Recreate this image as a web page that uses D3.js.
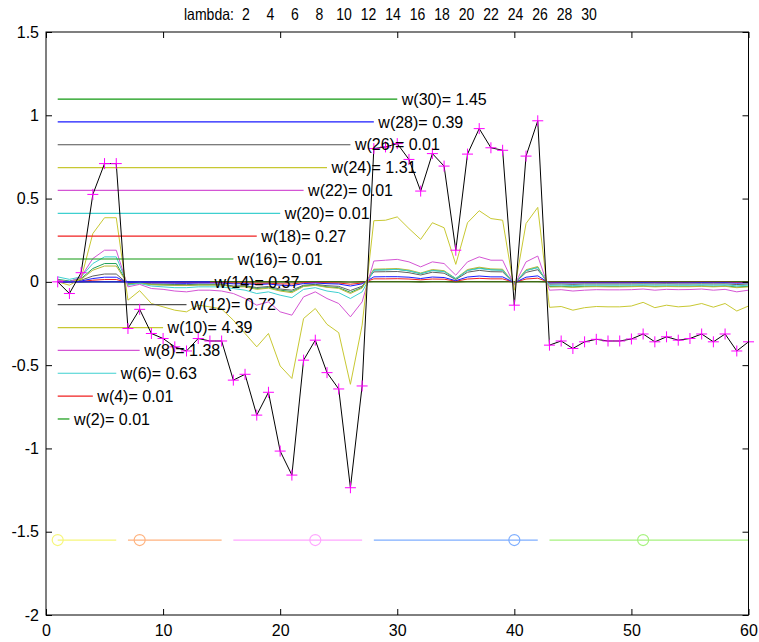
<!DOCTYPE html>
<html lang="en">
<head>
<meta charset="utf-8">
<title>lambda weights</title>
<script src="https://d3js.org/d3.v7.min.js"></script>
<style>
  body { margin: 0; background: #fff; }
  text { font-family: "Liberation Sans", Arial, Helvetica, sans-serif; fill: #000; }
</style>
</head>
<body>
<script>
// canvas
const W = 759, H = 642;
const plot = {left: 46, right: 748.5, top: 32, bottom: 615};

// lambdas shown in the title / legend
const lambdas = [2, 4, 6, 8, 10, 12, 14, 16, 18, 20, 22, 24, 26, 28, 30];
const weights = ["0.01", "0.01", "0.63", "1.38", "4.39", "0.72", "0.37", "0.01", "0.27", "0.01", "0.01", "1.31", "0.01", "0.39", "1.45"];
const legendColors = ["#119911", "#f02020", "#3ed0d0", "#d455d4", "#c8c832", "#505050", "#1a1aff",
                      "#119911", "#f02020", "#3ed0d0", "#d455d4", "#c8c832", "#505050", "#1a1aff", "#119911"];

// observed signal (black line with magenta +)
const signal = [0, -0.07, 0.055, 0.525, 0.71, 0.71, -0.28, -0.165, -0.31, -0.34,
  -0.39, -0.415, -0.34, -0.355, -0.355, -0.59, -0.555, -0.80, -0.663, -1.016,
  -1.16, -0.47, -0.35, -0.545, -0.643, -1.236, -0.625, 0.80, 0.81, 0.83,
  0.735, 0.545, 0.77, 0.695, 0.19, 0.767, 0.92, 0.805, 0.79, -0.14,
  0.755, 0.967, -0.38, -0.355, -0.40, -0.36, -0.345, -0.355, -0.355, -0.343,
  -0.313, -0.36, -0.33, -0.35, -0.34, -0.313, -0.36, -0.313, -0.415, -0.36];

// smoothed curves
const yellowBig = [0, -0.02, 0.02, 0.29, 0.385, 0.385, -0.11, -0.053, -0.13, -0.15,
  -0.17, -0.18, -0.14, -0.15, -0.163, -0.23, -0.31, -0.39, -0.31, -0.505,
  -0.58, -0.22, -0.16, -0.255, -0.305, -0.615, -0.26, 0.367, 0.37, 0.39,
  0.32, 0.255, 0.355, 0.325, 0.105, 0.355, 0.427, 0.38, 0.37, -0.05,
  0.35, 0.447, -0.153, -0.148, -0.17, -0.155, -0.148, -0.15, -0.15, -0.145,
  -0.123, -0.155, -0.14, -0.15, -0.145, -0.13, -0.152, -0.13, -0.175, -0.145];
const magentaC = [0.01, 0, 0.03, 0.14, 0.19, 0.19, -0.03, -0.015, -0.04, -0.045,
  -0.055, -0.06, -0.05, -0.05, -0.055, -0.07, -0.10, -0.14, -0.12, -0.18,
  -0.20, -0.09, -0.06, -0.10, -0.13, -0.21, -0.12, 0.125, 0.13, 0.135,
  0.12, 0.09, 0.12, 0.11, 0.04, 0.12, 0.15, 0.13, 0.13, -0.02,
  0.12, 0.155, -0.05, -0.047, -0.055, -0.05, -0.047, -0.048, -0.048, -0.047,
  -0.043, -0.05, -0.045, -0.047, -0.046, -0.043, -0.05, -0.045, -0.06, -0.05];
const cyanC = [0.03, 0.015, 0.03, 0.11, 0.15, 0.15, -0.02, -0.01, -0.025, -0.03,
  -0.035, -0.035, -0.03, -0.03, -0.03, -0.04, -0.05, -0.07, -0.06, -0.08,
  -0.095, -0.045, -0.035, -0.055, -0.065, -0.10, -0.06, 0.07, 0.072, 0.075,
  0.066, 0.05, 0.068, 0.062, 0.02, 0.068, 0.08, 0.072, 0.07, -0.01,
  0.068, 0.085, -0.021, -0.02, -0.022, -0.02, -0.02, -0.02, -0.02, -0.02,
  -0.018, -0.02, -0.019, -0.02, -0.02, -0.018, -0.02, -0.018, -0.024, -0.02];
const oliveC = [0.01, 0, 0.015, 0.07, 0.095, 0.095, -0.015, -0.008, -0.017, -0.019,
  -0.021, -0.022, -0.019, -0.019, -0.019, -0.03, -0.03, -0.045, -0.038, -0.055,
  -0.065, -0.028, -0.021, -0.033, -0.039, -0.07, -0.037, 0.076, 0.078, 0.08,
  0.071, 0.053, 0.074, 0.067, 0.02, 0.074, 0.088, 0.078, 0.076, -0.012,
  0.073, 0.092, -0.031, -0.03, -0.033, -0.03, -0.029, -0.03, -0.03, -0.029,
  -0.027, -0.03, -0.028, -0.029, -0.029, -0.027, -0.03, -0.027, -0.035, -0.03];
const greenC = [0.015, 0.005, 0.02, 0.08, 0.11, 0.11, -0.014, -0.007, -0.016, -0.018,
  -0.02, -0.021, -0.018, -0.018, -0.018, -0.028, -0.027, -0.04, -0.034, -0.05,
  -0.058, -0.025, -0.019, -0.03, -0.035, -0.063, -0.033, 0.072, 0.073, 0.075,
  0.066, 0.049, 0.069, 0.063, 0.018, 0.069, 0.083, 0.073, 0.071, -0.011,
  0.068, 0.087, -0.028, -0.027, -0.03, -0.027, -0.026, -0.027, -0.027, -0.026,
  -0.024, -0.027, -0.025, -0.026, -0.026, -0.024, -0.027, -0.024, -0.031, -0.027];
const greyC = [0.005, -0.005, 0.01, 0.035, 0.047, 0.047, -0.012, -0.007, -0.013, -0.014,
  -0.016, -0.017, -0.014, -0.015, -0.015, -0.025, -0.024, -0.034, -0.028, -0.043,
  -0.05, -0.02, -0.015, -0.023, -0.027, -0.052, -0.026, 0.06, 0.061, 0.062,
  0.055, 0.041, 0.058, 0.052, 0.014, 0.058, 0.069, 0.061, 0.06, -0.01,
  0.057, 0.073, -0.014, -0.013, -0.015, -0.013, -0.013, -0.013, -0.013, -0.013,
  -0.012, -0.013, -0.012, -0.013, -0.013, -0.012, -0.013, -0.012, -0.016, -0.013];
const blueC = [0.002, -0.002, 0.005, 0.02, 0.028, 0.028, -0.006, -0.004, -0.007, -0.007,
  -0.008, -0.009, -0.007, -0.007, -0.007, -0.012, -0.011, -0.016, -0.013, -0.02,
  -0.023, -0.01, -0.007, -0.011, -0.013, -0.025, -0.012, 0.03, 0.031, 0.031,
  0.028, 0.02, 0.029, 0.026, 0.007, 0.029, 0.035, 0.03, 0.03, -0.005,
  0.028, 0.036, -0.007, -0.006, -0.007, -0.006, -0.006, -0.006, -0.006, -0.006,
  -0.005, -0.006, -0.006, -0.006, -0.006, -0.005, -0.006, -0.005, -0.008, -0.006];
const redC = [0, -0.001, 0.002, 0.01, 0.014, 0.014, -0.004, -0.002, -0.004, -0.004,
  -0.005, -0.005, -0.004, -0.004, -0.004, -0.007, -0.006, -0.009, -0.008, -0.012,
  -0.013, -0.005, -0.004, -0.006, -0.007, -0.014, -0.007, 0.018, 0.018, 0.019,
  0.017, 0.012, 0.017, 0.016, 0.004, 0.017, 0.021, 0.018, 0.018, -0.003,
  0.017, 0.022, -0.003, -0.003, -0.003, -0.003, -0.003, -0.003, -0.003, -0.003,
  -0.002, -0.003, -0.003, -0.003, -0.003, -0.002, -0.003, -0.002, -0.004, -0.003];
const darkC = [0, 0, 0, 0.001, 0.001, 0.001, 0, 0, 0, 0,
  0, 0, 0, 0, 0, 0, 0, 0, 0, 0,
  0, 0, 0, 0, 0, -0.001, 0, 0.001, 0.001, 0.001,
  0.001, 0, 0.001, 0.001, 0, 0.001, 0.001, 0.001, 0.001, 0,
  0.001, 0.001, 0, 0, 0, 0, 0, 0, 0, 0,
  0, 0, 0, 0, 0, 0, 0, 0, 0, 0];

// segments along the bottom
const segStart = [1, 7, 16, 28, 43];
const segEnd = [6, 15, 27, 42, 60];
const segMark = [1, 8, 23, 40, 51];
const segLevel = -1.55;
const segColors = ["#f6f67a", "#ffb27e", "#ffa6ff", "#7eaeff", "#a6f27e"];

const xTicks = [0, 10, 20, 30, 40, 50, 60];
const yTicks = [-2, -1.5, -1, -0.5, 0, 0.5, 1, 1.5];

const svg = d3.select("body").append("svg")
    .attr("width", W)
    .attr("height", H);

svg.append("rect").attr("width", W).attr("height", H).style("fill", "white");

const x = d3.scaleLinear().domain([0, 60]).range([plot.left, plot.right]);
const y = d3.scaleLinear().domain([-2, 1.5]).range([plot.bottom, plot.top]);

const line = d3.line()
    .x(function(d, i) { return x(i + 1); })
    .y(function(d) { return y(d); });

// curves (drawn from smallest to largest)
const curves = [
  {v: darkC, c: "#3d6b14", w: 1.6},
  {v: redC, c: "#f02020", w: 1},
  {v: blueC, c: "#1a1aff", w: 1},
  {v: greyC, c: "#606060", w: 1},
  {v: greenC, c: "#21a05a", w: 1},
  {v: oliveC, c: "#b8b838", w: 1},
  {v: cyanC, c: "#3ed0d0", w: 1},
  {v: magentaC, c: "#d455d4", w: 1},
  {v: yellowBig, c: "#c8c832", w: 1}
];

const g = svg.append("g");
curves.forEach(function(cv) {
  g.append("path")
    .datum(cv.v)
    .attr("d", line)
    .attr("fill", "none")
    .attr("stroke", cv.c)
    .attr("stroke-width", cv.w);
});

// legend lines with weights
const legendStep = 0.1372;
lambdas.forEach(function(l, i) {
  const ly = y((l - 14) / 2 * legendStep);
  g.append("line")
    .attr("x1", x(1)).attr("x2", x(l))
    .attr("y1", ly).attr("y2", ly)
    .attr("stroke", legendColors[i])
    .attr("stroke-width", 1.2);
});

// signal
g.append("path")
  .datum(signal)
  .attr("d", line)
  .attr("fill", "none")
  .attr("stroke", "#000")
  .attr("stroke-width", 1);

g.selectAll(".plus")
  .data(signal)
  .enter().append("path")
    .attr("class", "plus")
    .attr("transform", function(d, i) { return "translate(" + x(i + 1) + "," + y(d) + ")"; })
    .attr("d", "M-5.5,0H5.5M0,-5.5V5.5")
    .attr("stroke", "#ff00ff")
    .attr("stroke-width", 1);

lambdas.forEach(function(l, i) {
  const ly = y((l - 14) / 2 * legendStep);
  g.append("text")
    .attr("x", x(l) + 4.5)
    .attr("y", ly)
    .attr("dy", "0.36em")
    .style("font-size", "16px")
    .text("w(" + l + ")= " + weights[i]);
});

// segments
segStart.forEach(function(s, i) {
  g.append("line")
    .attr("x1", x(s)).attr("x2", x(segEnd[i]))
    .attr("y1", y(segLevel)).attr("y2", y(segLevel))
    .attr("stroke", segColors[i])
    .attr("stroke-width", 1.2);
  g.append("circle")
    .attr("cx", x(segMark[i]))
    .attr("cy", y(segLevel))
    .attr("r", 5.5)
    .attr("fill", "none")
    .attr("stroke", segColors[i])
    .attr("stroke-width", 1.2);
});

// axes
function fmt(d) { return String(d); }
svg.append("g")
  .attr("transform", "translate(0," + plot.bottom + ")")
  .call(d3.axisBottom(x).tickValues(xTicks).tickFormat(fmt).tickSizeInner(-6).tickSizeOuter(0).tickPadding(10))
  .call(function(a) { a.select(".domain").remove(); });
svg.append("g")
  .attr("transform", "translate(0," + plot.top + ")")
  .call(d3.axisTop(x).tickValues(xTicks).tickFormat("").tickSizeInner(-6).tickSizeOuter(0))
  .call(function(a) { a.select(".domain").remove(); });
svg.append("g")
  .attr("transform", "translate(" + plot.left + ",0)")
  .call(d3.axisLeft(y).tickValues(yTicks).tickFormat(fmt).tickSizeInner(-6).tickSizeOuter(0).tickPadding(7))
  .call(function(a) { a.select(".domain").remove(); });
svg.append("g")
  .attr("transform", "translate(" + plot.right + ",0)")
  .call(d3.axisRight(y).tickValues(yTicks).tickFormat("").tickSizeInner(-6).tickSizeOuter(0))
  .call(function(a) { a.select(".domain").remove(); });

svg.selectAll(".tick text")
  .style("font-size", "16px")
  .style("font-family", '"Liberation Sans", Arial, sans-serif')
  .attr("fill", "#000");
svg.selectAll(".tick line").attr("stroke", "#000");

svg.append("rect")
  .attr("x", plot.left).attr("y", plot.top)
  .attr("width", plot.right - plot.left)
  .attr("height", plot.bottom - plot.top)
  .attr("fill", "none")
  .attr("stroke", "#000")
  .attr("stroke-width", 1);

// title, narrow letters
function condense(sel) {
  sel.each(function() {
    const len = this.getComputedTextLength();
    d3.select(this).attr("textLength", len * 0.85).attr("lengthAdjust", "spacingAndGlyphs");
  });
}
svg.append("text")
  .attr("x", 184)
  .attr("y", 20)
  .style("font-size", "16.5px")
  .text("lambda:")
  .call(condense);
lambdas.forEach(function(l, i) {
  svg.append("text")
    .attr("x", 246 + 24.5 * i)
    .attr("y", 20)
    .attr("text-anchor", "middle")
    .style("font-size", "16.5px")
    .text(l)
    .call(condense);
});
</script>
</body>
</html>
